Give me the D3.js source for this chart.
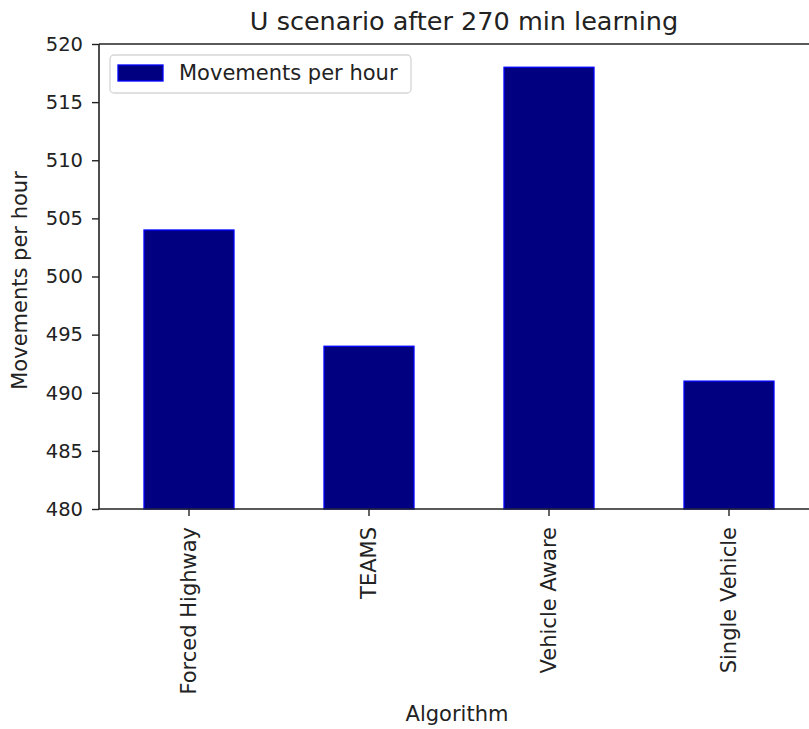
<!DOCTYPE html>
<html>
<head>
<meta charset="utf-8">
<script src="https://cdn.jsdelivr.net/npm/d3@7/dist/d3.min.js"></script>
<style>
  html, body { margin: 0; padding: 0; background: #fff; }
  svg { display: block; }
  svg text { font-family: "DejaVu Sans", sans-serif; }
</style>
</head>
<body>
<svg id="chart" width="809" height="729"></svg>
<script>
// Throughput per algorithm after 270 minutes of learning
const categories = ["Forced Highway", "TEAMS", "Vehicle Aware", "Single Vehicle"];
const movementsPerHour = [504, 494, 518, 491];
const yTicks = [480, 485, 490, 495, 500, 505, 510, 515, 520];
const seriesName = "Movements per hour";
const titleText = "U scenario after 270 min learning";
const xLabel = "Algorithm";
const yLabel = "Movements per hour";

const FONT = "DejaVu Sans";
const svg = d3.select("#chart");
const plot = { left: 99, top: 44, right: 819, bottom: 509 };

const x = d3.scaleBand()
  .domain(categories)
  .range([plot.left, plot.right])
  .paddingInner(0.5)
  .paddingOuter(0.25);

const y = d3.scaleLinear()
  .domain([480, 520])
  .range([plot.bottom, plot.top]);

// Bars
svg.append("g")
  .selectAll("rect")
  .data(categories.map((c, i) => ({ c, v: movementsPerHour[i] })))
  .join("rect")
  .attr("x", d => x(d.c))
  .attr("y", d => y(d.v))
  .attr("width", x.bandwidth())
  .attr("height", d => y(480) - y(d.v))
  .attr("fill", "#000080")
  .attr("stroke", "#0000ff")
  .attr("stroke-width", 1.3);

// Axes
const yAxis = d3.axisLeft(y).tickValues(yTicks).tickSize(7).tickPadding(9).tickFormat(d3.format("d"));
const gy = svg.append("g").attr("transform", `translate(${plot.left},0)`).call(yAxis)
  .attr("font-family", FONT);
gy.select(".domain").remove();
gy.selectAll(".tick line").attr("stroke", "#222").attr("stroke-width", 1.4);
gy.selectAll(".tick text").attr("fill", "#222").style("font-size", "19.5px");

const xAxis = d3.axisBottom(x).tickSize(7).tickPadding(0);
const gx = svg.append("g").attr("transform", `translate(0,${plot.bottom})`).call(xAxis)
  .attr("font-family", FONT);
gx.select(".domain").remove();
gx.selectAll(".tick line").attr("stroke", "#222").attr("stroke-width", 1.4);
gx.selectAll(".tick text")
  .attr("fill", "#222")
  .style("font-size", "21px")
  .attr("transform", "rotate(-90)")
  .attr("x", -18)
  .attr("y", 0)
  .attr("dy", "0.35em")
  .attr("text-anchor", "end");

// Spines (left, bottom, top, right)
const spine = svg.append("g").attr("stroke", "#222").attr("stroke-width", 1.6).attr("fill", "none");
spine.append("line").attr("x1", plot.left).attr("x2", plot.left).attr("y1", plot.top).attr("y2", plot.bottom);
spine.append("line").attr("x1", plot.left).attr("x2", plot.right).attr("y1", plot.bottom).attr("y2", plot.bottom);
spine.append("line").attr("x1", plot.left).attr("x2", plot.right).attr("y1", plot.top).attr("y2", plot.top);
spine.append("line").attr("x1", plot.right).attr("x2", plot.right).attr("y1", plot.top).attr("y2", plot.bottom);

// Title and axis labels
svg.append("text")
  .attr("x", (plot.left + plot.right) / 2 + 5)
  .attr("y", 30)
  .attr("text-anchor", "middle")
  .attr("fill", "#222")
  .style("font-size", "25.5px")
  .text(titleText);

svg.append("text")
  .attr("x", (plot.left + plot.right) / 2 - 2)
  .attr("y", 721)
  .attr("text-anchor", "middle")
  .attr("fill", "#222")
  .style("font-size", "21px")
  .text(xLabel);

svg.append("text")
  .attr("transform", `translate(27,${(plot.top + plot.bottom) / 2 + 4}) rotate(-90)`)
  .attr("text-anchor", "middle")
  .attr("fill", "#222")
  .style("font-size", "21px")
  .text(yLabel);

// Legend
const legend = svg.append("g");
legend.append("rect")
  .attr("x", 110).attr("y", 55).attr("width", 301).attr("height", 38)
  .attr("rx", 4).attr("ry", 4)
  .attr("fill", "#fff").attr("fill-opacity", 0.8)
  .attr("stroke", "#d6d6d6").attr("stroke-width", 1.3);
legend.append("rect")
  .attr("x", 118).attr("y", 65).attr("width", 45).attr("height", 16)
  .attr("fill", "#000080").attr("stroke", "#0000ff").attr("stroke-width", 1.3);
legend.append("text")
  .attr("x", 179).attr("y", 80)
  .attr("fill", "#222")
  .style("font-size", "21px")
  .text(seriesName);
</script>
</body>
</html>
